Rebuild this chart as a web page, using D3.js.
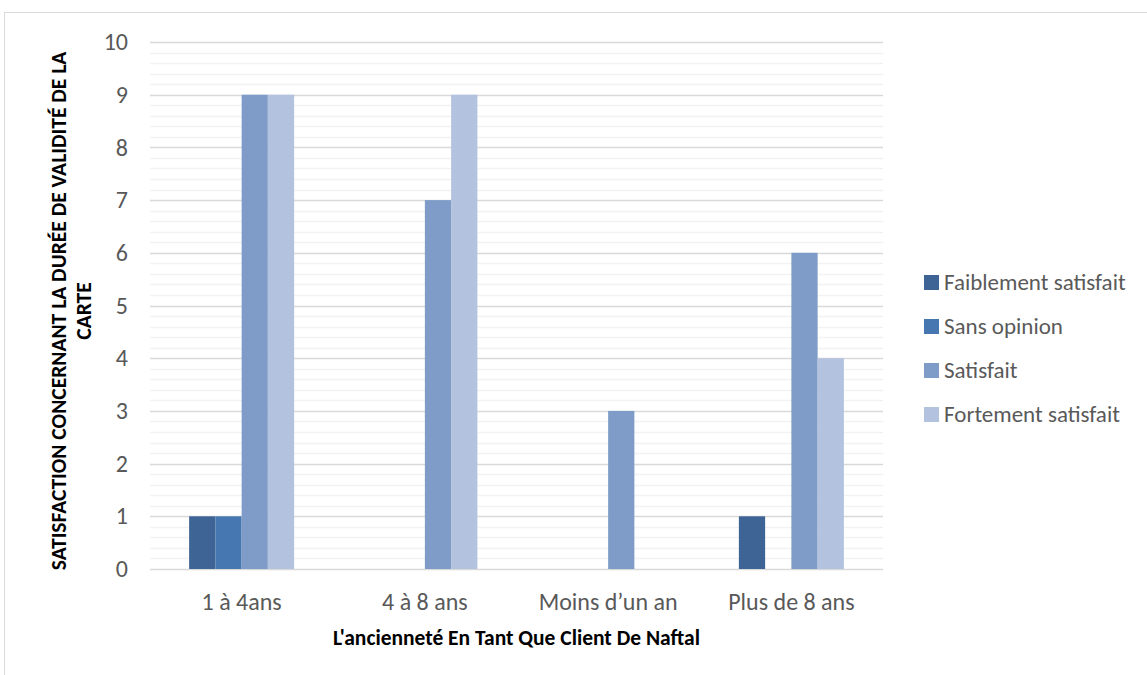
<!DOCTYPE html>
<html>
<head>
<meta charset="utf-8">
<script src="https://cdn.jsdelivr.net/npm/d3@7"></script>
<style>
  html, body { margin: 0; padding: 0; background: #fff; }
  svg { display: block; }
</style>
</head>
<body>
<svg id="chart" width="1147" height="675"></svg>
<script>
// Customer seniority groups and satisfaction counts
const categories = ["1 à 4ans", "4 à 8 ans", "Moins d’un an", "Plus de 8 ans"];
const seriesNames = ["Faiblement satisfait", "Sans opinion", "Satisfait", "Fortement satisfait"];
const faiblementSatisfait = [1, 0, 0, 1];
const sansOpinion = [1, 0, 0, 0];
const satisfait = [9, 7, 3, 6];
const fortementSatisfait = [9, 9, 0, 4];
const yTicks = [0, 1, 2, 3, 4, 5, 6, 7, 8, 9, 10];
const seriesColors = ["#3d6495", "#4677b0", "#7f9cc8", "#b3c2df"];

const seriesValues = [faiblementSatisfait, sansOpinion, satisfait, fortementSatisfait];

const svg = d3.select("#chart");
const font = "Carlito, Calibri, 'Open Sans', sans-serif";

// Outer chart frame
svg.append("rect")
  .attr("x", 4.5).attr("y", 12.5)
  .attr("width", 1160).attr("height", 700)
  .attr("fill", "#fff").attr("stroke", "#d9d9d9").attr("stroke-width", 1);

const plot = { left: 150, right: 883, top: 42, bottom: 569 };
const groupWidth = 105;

const x = d3.scaleBand().domain(categories)
  .range([plot.left, plot.right]).paddingInner(0).paddingOuter(0);
const xInner = d3.scaleBand().domain(seriesNames).range([0, groupWidth]);
const y = d3.scaleLinear().domain([0, 10]).range([plot.bottom, plot.top]);

// Minor gridlines every 0.2
const minor = d3.range(0, 10.001, 0.2).filter(v => Math.abs(v - Math.round(v)) > 1e-6);
svg.append("g").selectAll("line").data(minor).join("line")
  .attr("x1", plot.left).attr("x2", plot.right)
  .attr("y1", d => Math.round(y(d)) + 0.5).attr("y2", d => Math.round(y(d)) + 0.5)
  .attr("stroke", "#f2f2f2").attr("stroke-width", 1.5);

// Major gridlines
svg.append("g").selectAll("line").data(yTicks).join("line")
  .attr("x1", plot.left).attr("x2", plot.right)
  .attr("y1", d => Math.round(y(d)) + 0.5).attr("y2", d => Math.round(y(d)) + 0.5)
  .attr("stroke", "#d9d9d9").attr("stroke-width", 1.5);

// Bars
const rows = [];
categories.forEach((c, i) => {
  seriesNames.forEach((s, j) => {
    rows.push({ cat: c, series: s, value: seriesValues[j][i], color: seriesColors[j] });
  });
});
svg.append("g").selectAll("rect").data(rows.filter(d => d.value > 0)).join("rect")
  .attr("x", d => x(d.cat) + (x.bandwidth() - groupWidth) / 2 + xInner(d.series))
  .attr("width", xInner.bandwidth())
  .attr("y", d => y(d.value))
  .attr("height", d => y(0) - y(d.value))
  .attr("fill", d => d.color);

// Y axis labels
const yAxis = d3.axisLeft(y).tickValues(yTicks).tickSize(0).tickPadding(22);
const yg = svg.append("g").attr("transform", `translate(${plot.left},0)`).call(yAxis);
yg.select(".domain").remove();
yg.selectAll("text").attr("font-family", font).attr("font-size", 24).attr("fill", "#595959");

// X axis labels
const xAxis = d3.axisBottom(x).tickSize(0).tickPadding(24);
const xg = svg.append("g").attr("transform", `translate(0,${plot.bottom})`).call(xAxis);
xg.select(".domain").remove();
xg.selectAll("text").attr("font-family", font).attr("font-size", 24).attr("fill", "#595959");

// Axis titles
svg.append("text")
  .attr("x", (plot.left + plot.right) / 2).attr("y", 645)
  .attr("text-anchor", "middle")
  .attr("font-family", font).attr("font-size", 21.5).attr("font-weight", "bold").attr("fill", "#000")
  .text("L'ancienneté En Tant Que Client De Naftal");

const yTitle = svg.append("text")
  .attr("transform", "translate(0,311) rotate(-90)")
  .attr("text-anchor", "middle")
  .attr("font-family", font).attr("font-size", 21.5).attr("font-weight", "bold").attr("fill", "#000");
yTitle.append("tspan").attr("x", 0).attr("y", 66)
  .text("SATISFACTION CONCERNANT LA DURÉE DE VALIDITÉ DE LA");
yTitle.append("tspan").attr("x", 0).attr("y", 91).text("CARTE");

// Legend
const legend = svg.append("g").selectAll("g").data(seriesNames).join("g")
  .attr("transform", (d, i) => `translate(924,${275 + i * 44})`);
legend.append("rect").attr("x", 0).attr("y", 0).attr("width", 15).attr("height", 15)
  .attr("fill", (d, i) => seriesColors[i]);
legend.append("text").attr("x", 20).attr("y", 15)
  .attr("font-family", font).attr("font-size", 23).attr("fill", "#595959")
  .text(d => d);
</script>
</body>
</html>
